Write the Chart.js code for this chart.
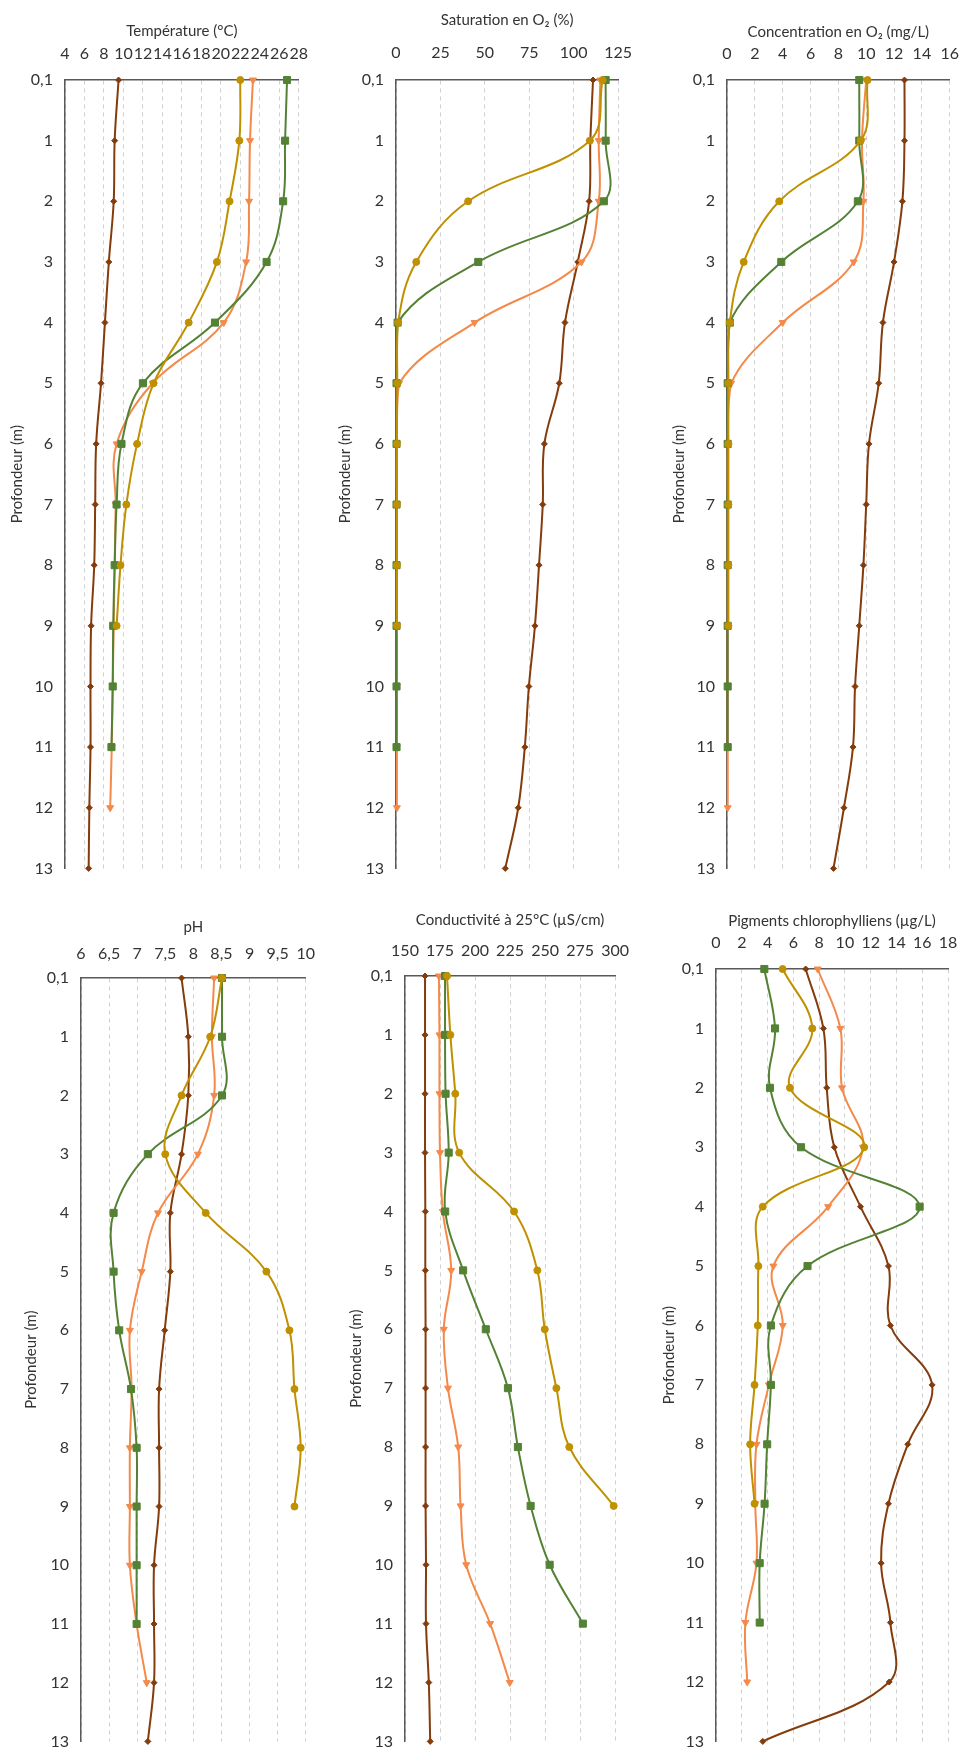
<!DOCTYPE html>
<html><head><meta charset="utf-8">
<script src="https://cdn.jsdelivr.net/npm/chart.js"></script>
<style>
html,body{margin:0;padding:0;background:#fff;}
body{width:976px;height:1763px;position:relative;overflow:hidden;}
canvas{position:absolute;}
</style></head><body>
<canvas id="c0"></canvas><canvas id="c1"></canvas><canvas id="c2"></canvas>
<canvas id="c3"></canvas><canvas id="c4"></canvas><canvas id="c5"></canvas>
<script>
const depthLabels = ['0,1','1','2','3','4','5','6','7','8','9','10','11','12','13'];

// Température (°C)
const tempBrown  = [9.5, 9.1, 9.0, 8.5, 8.1, 7.7, 7.2, 7.1, 7.0, 6.68, 6.62, 6.62, 6.5, 6.43];
const tempOrange = [23.3, 23.0, 22.9, 22.6, 20.3, 13.0, 9.3, 9.2, 9.1, 9.0, 8.9, 8.8, 8.64, null];
const tempGold   = [22.0, 21.9, 20.9, 19.6, 16.7, 13.1, 11.4, 10.3, 9.7, 9.3, null, null, null, null];
const tempGreen  = [26.8, 26.6, 26.4, 24.7, 19.4, 12.0, 9.8, 9.3, 9.1, 8.95, 8.9, 8.77, null, null];

// Saturation en O2 (%)
const satBrown  = [110.9, 109.4, 108.7, 102.3, 95.1, 91.9, 83.5, 82.6, 80.5, 78.2, 74.8, 72.5, 68.8, 61.5];
const satOrange = [115.0, 114.1, 114.1, 104.4, 44.2, 1.8, 0.5, 0.5, 0.5, 0.5, 0.5, 0.5, 0.5, null];
const satGold   = [116.3, 109.1, 40.6, 11.4, 1.2, 0.7, 0.5, 0.5, 0.5, 0.5, null, null, null, null];
const satGreen  = [118.0, 118.0, 117.0, 46.3, 0.9, 0.3, 0.3, 0.3, 0.3, 0.3, 0.3, 0.3, null, null];

// Concentration en O2 (mg/L)
const concBrown  = [12.75, 12.75, 12.6, 12.0, 11.2, 10.9, 10.2, 10.0, 9.8, 9.5, 9.2, 9.05, 8.4, 7.65];
const concOrange = [10.0, 9.7, 9.8, 9.1, 4.0, 0.3, 0.05, 0.05, 0.05, 0.05, 0.05, 0.05, 0.05, null];
const concGold   = [10.1, 9.6, 3.75, 1.2, 0.2, 0.1, 0.1, 0.1, 0.1, 0.1, null, null, null, null];
const concGreen  = [9.5, 9.5, 9.4, 3.9, 0.2, 0.05, 0.05, 0.05, 0.05, 0.05, 0.05, 0.05, null, null];

// pH
const phBrown  = [7.79, 7.91, 7.91, 7.79, 7.59, 7.59, 7.49, 7.39, 7.39, 7.39, 7.30, 7.30, 7.30, 7.19];
const phOrange = [8.37, 8.33, 8.37, 8.08, 7.37, 7.08, 6.87, 6.90, 6.87, 6.87, 6.87, 6.99, 7.17, null];
const phGold   = [8.51, 8.30, 7.79, 7.50, 8.22, 9.30, 9.71, 9.80, 9.91, 9.80, null, null, null, null];
const phGreen  = [8.51, 8.51, 8.51, 7.19, 6.58, 6.58, 6.68, 6.89, 6.99, 6.99, 6.99, 6.99, null, null];

// Conductivité à 25°C (µS/cm)
const condBrown  = [164.3, 164.3, 164.3, 164.3, 164.5, 164.5, 164.7, 164.7, 164.7, 164.7, 165.0, 165.0, 167.0, 168.0];
const condOrange = [174.2, 174.6, 174.6, 175.0, 177.0, 183.0, 177.7, 180.7, 188.0, 189.7, 193.7, 210.8, 224.8, null];
const condGold   = [180.0, 182.4, 185.9, 188.7, 227.9, 244.5, 249.8, 258.1, 267.3, 299.0, null, null, null, null];
const condGreen  = [178.6, 178.6, 179.0, 181.2, 178.7, 191.5, 207.7, 223.5, 230.6, 239.7, 253.3, 277.0, null, null];

// Pigments chlorophylliens (µg/L)
const pigBrown  = [6.96, 8.33, 8.59, 9.18, 11.21, 13.38, 13.53, 16.77, 14.88, 13.38, 12.81, 13.53, 13.44, 3.63];
const pigOrange = [7.89, 9.65, 9.78, 11.4, 8.70, 4.45, 5.18, 4.1, 3.14, 3.05, 3.14, 2.28, 2.42, null];
const pigGold   = [5.17, 7.47, 5.74, 11.5, 3.63, 3.29, 3.24, 2.99, 2.65, 2.99, null, null, null, null];
const pigGreen  = [3.75, 4.58, 4.19, 6.6, 15.8, 7.1, 4.26, 4.26, 3.97, 3.77, 3.39, 3.39, null, null];

const xTicks = {
  temp: {min: 4, max: 28, step: 2},
  sat:  {min: 0, max: 125, step: 25},
  conc: {min: 0, max: 16, step: 2},
  ph:   {min: 6, max: 10, step: 0.5},
  cond: {min: 150, max: 300, step: 25},
  pig:  {min: 0, max: 18, step: 2}
};

const styles = [
  {color: '#BF9000', pointStyle: 'circle', radius: 3.5, rot: 0},
  {color: '#548235', pointStyle: 'rect', radius: 5, rot: 0},
  {color: '#F4894A', pointStyle: 'triangle', radius: 4, rot: 180},
  {color: '#843C0C', pointStyle: 'rectRot', radius: 3, rot: 0}
];

const panels = [
  {id:'c0', title:'Température (°C)', t: xTicks.temp, series:[tempGold,tempGreen,tempOrange,tempBrown],
   x0:0, y0:0, w:325, h:890, L:65, T:80, R:302, B:875, xt:31, tp:17, yt:17},
  {id:'c1', title:'Saturation en O\u2082 (%)', t: xTicks.sat, series:[satGold,satGreen,satOrange,satBrown],
   x0:325, y0:0, w:325, h:890, L:396, T:80, R:629, B:875, xt:20, tp:18, yt:345},
  {id:'c2', title:'Concentration en O\u2082 (mg/L)', t: xTicks.conc, series:[concGold,concGreen,concOrange,concBrown],
   x0:655, y0:0, w:321, h:890, L:727, T:80, R:963, B:875, xt:32, tp:17, yt:679},
  {id:'c3', title:'pH', t: xTicks.ph, series:[phGold,phGreen,phOrange,phBrown],
   x0:0, y0:895, w:330, h:868, L:81, T:978, R:311, B:1750, xt:927, tp:15, yt:31},
  {id:'c4', title:'Conductivité à 25°C (µS/cm)', t: xTicks.cond, series:[condGold,condGreen,condOrange,condBrown],
   x0:330, y0:895, w:315, h:868, L:405, T:976, R:618, B:1750, xt:920, tp:16, yt:356},
  {id:'c5', title:'Pigments chlorophylliens (µg/L)', t: xTicks.pig, series:[pigGold,pigGreen,pigOrange,pigBrown],
   x0:645, y0:895, w:331, h:868, L:716, T:969, R:948, B:1750, xt:921, tp:17, yt:669}
];

const FONT = 'Lato, "Open Sans", "DejaVu Sans", sans-serif';
const TXT = '#333333';
Chart.defaults.font.family = FONT;

panels.forEach(p => {
  const cv = document.getElementById(p.id);
  cv.width = p.w; cv.height = p.h;
  cv.style.left = p.x0 + 'px'; cv.style.top = p.y0 + 'px';
  cv.style.width = p.w + 'px'; cv.style.height = p.h + 'px';
  const datasets = p.series.map((vals, k) => {
    const s = styles[k];
    return {
      data: vals.map((v, i) => ({x: v, y: i})).filter(pt => pt.x !== null),
      borderColor: s.color, backgroundColor: s.color,
      borderWidth: 2, tension: 0.38,
      pointStyle: s.pointStyle, pointRadius: s.radius, pointRotation: s.rot,
      pointBorderWidth: 1, pointBorderColor: s.color, pointBackgroundColor: s.color,
      clip: false
    };
  });
  new Chart(cv, {
    type: 'line',
    data: {datasets},
    options: {
      responsive: false, animation: false, devicePixelRatio: 1,
      indexAxis: 'y',
      layout: {padding: {left: 0, top: 0, right: p.x0 + p.w - p.R, bottom: p.y0 + p.h - p.B}},
      plugins: {legend: {display: false}, tooltip: {enabled: false}},
      scales: {
        x: {
          type: 'linear', position: 'top', min: p.t.min, max: p.t.max,
          ticks: {stepSize: p.t.step, autoSkip: false, maxRotation: 0, minRotation: 0,
                  padding: p.tp, color: TXT, font: {size: 16},
                  callback: v => String(v).replace('.', ',')},
          grid: {display: true, drawTicks: false, color: '#cfcfcf', lineWidth: 1},
          border: {display: true, color: '#595959', width: 1.5, dash: [4, 4]},
          title: {display: true, text: p.title, color: TXT, font: {size: 15},
                  padding: {top: p.xt - p.y0 - 9, bottom: 0}},
          afterFit: s => { s.height = p.T - p.y0; }
        },
        y: {
          type: 'linear', reverse: true, min: 0, max: 13,
          ticks: {stepSize: 1, autoSkip: false, padding: 12, color: TXT, font: {size: 16},
                  callback: v => depthLabels[v]},
          grid: {display: false, drawTicks: false},
          border: {display: true, color: '#595959', width: 1.5},
          title: {display: true, text: 'Profondeur (m)', color: TXT, font: {size: 15},
                  padding: {top: p.yt - p.x0 - 9, bottom: 0}},
          afterFit: s => { s.width = p.L - p.x0; }
        }
      }
    }
  });
});
</script>
</body></html>
